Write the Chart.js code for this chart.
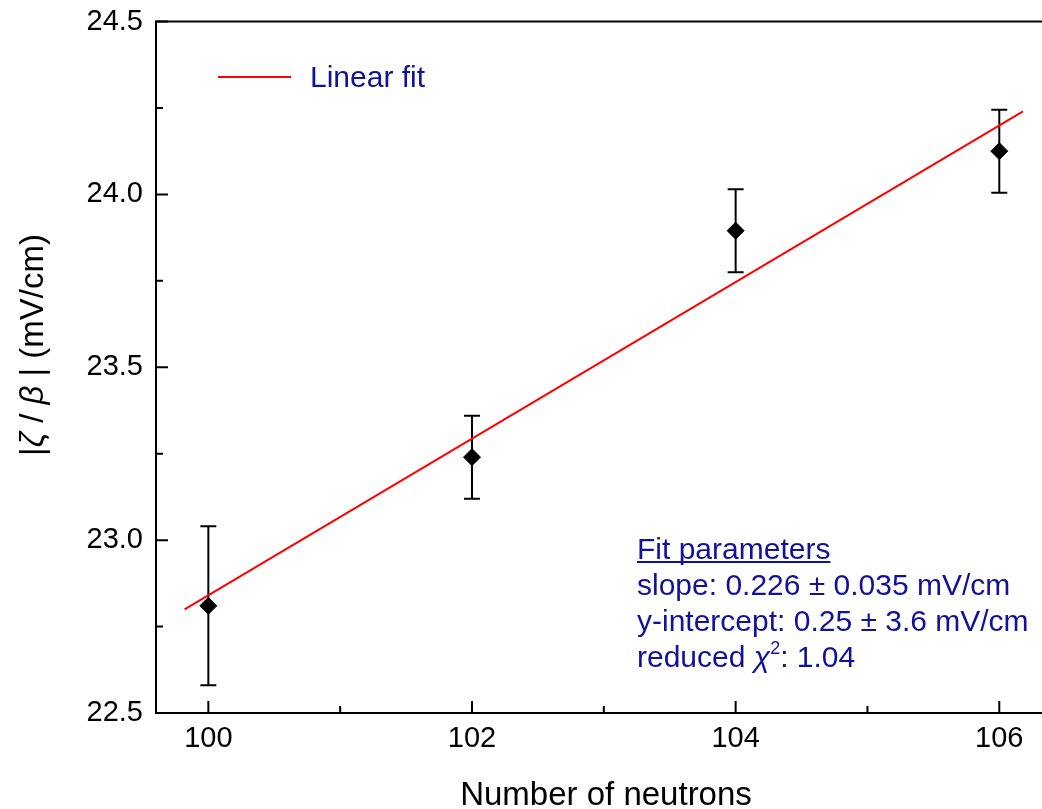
<!DOCTYPE html>
<html>
<head>
<meta charset="utf-8">
<script src="https://cdn.jsdelivr.net/npm/chart.js@4.4.1/dist/chart.umd.min.js"></script>
<style>
html, body { margin: 0; padding: 0; background: #fff; }
#wrap { width: 1042px; height: 809px; }
</style>
</head>
<body>
<div id="wrap"><canvas id="chart" width="1042" height="809"></canvas></div>
<script>
// values
const neutrons = [100, 102, 104, 106];
const zetaBeta = [22.81, 23.24, 23.895, 24.125];
const zetaErr = [0.23, 0.12, 0.12, 0.12];

// linear fit line end points
const fitX = [99.82, 106.18];
const fitY = [22.80, 24.24];

const xTicks = [100, 102, 104, 106];
const xMinorTicks = [101, 103, 105];
const yTicks = [22.5, 23.0, 23.5, 24.0, 24.5];
const yMinorTicks = [22.75, 23.25, 23.75, 24.25];

const fitParams = [
    'slope: 0.226 \u00b1 0.035 mV/cm',
    'y-intercept: 0.25 \u00b1 3.6 mV/cm'
];
const chiText = ': 1.04';

const FONT = "'Liberation Sans', Arial, sans-serif";
const BLUE = '#11119a';

// draw a line of text made of parts (some italic / superscript)
function drawParts(ctx, parts, x, y, align) {
    let total = 0;
    parts.forEach(p => {
        ctx.font = (p.italic ? 'italic ' : '') + p.size + 'px ' + FONT;
        p.w = ctx.measureText(p.t).width;
        total += p.w;
    });
    let cx = align === 'center' ? x - total / 2 : x;
    parts.forEach(p => {
        ctx.font = (p.italic ? 'italic ' : '') + p.size + 'px ' + FONT;
        ctx.fillText(p.t, cx, y + (p.dy || 0));
        cx += p.w;
    });
}

// error bars under the markers
const errorBars = {
    id: 'errorBars',
    beforeDatasetsDraw(chart) {
        const ctx = chart.ctx;
        const x = chart.scales.x, y = chart.scales.y;
        ctx.save();
        ctx.strokeStyle = '#000';
        ctx.lineWidth = 2;
        neutrons.forEach((n, i) => {
            const px = x.getPixelForValue(n);
            const top = y.getPixelForValue(zetaBeta[i] + zetaErr[i]);
            const bot = y.getPixelForValue(zetaBeta[i] - zetaErr[i]);
            ctx.beginPath();
            ctx.moveTo(px, top); ctx.lineTo(px, bot);
            ctx.moveTo(px - 8, top); ctx.lineTo(px + 8, top);
            ctx.moveTo(px - 8, bot); ctx.lineTo(px + 8, bot);
            ctx.stroke();
        });
        ctx.restore();
    }
};

// frame, inward ticks, titles, legend and fit text
const decorations = {
    id: 'decorations',
    afterDraw(chart) {
        const ctx = chart.ctx;
        const a = chart.chartArea;
        const x = chart.scales.x, y = chart.scales.y;
        ctx.save();
        ctx.strokeStyle = '#000';
        ctx.lineWidth = 2;
        ctx.beginPath();
        ctx.moveTo(chart.width, a.top); ctx.lineTo(a.left, a.top);
        ctx.lineTo(a.left, a.bottom); ctx.lineTo(chart.width, a.bottom);
        ctx.stroke();

        ctx.beginPath();
        xTicks.forEach(v => {
            const p = x.getPixelForValue(v);
            ctx.moveTo(p, a.bottom); ctx.lineTo(p, a.bottom - 12);
        });
        xMinorTicks.forEach(v => {
            const p = x.getPixelForValue(v);
            ctx.moveTo(p, a.bottom); ctx.lineTo(p, a.bottom - 7);
        });
        yTicks.forEach(v => {
            const p = y.getPixelForValue(v);
            ctx.moveTo(a.left, p); ctx.lineTo(a.left + 12, p);
        });
        yMinorTicks.forEach(v => {
            const p = y.getPixelForValue(v);
            ctx.moveTo(a.left, p); ctx.lineTo(a.left + 7, p);
        });
        ctx.stroke();

        // axis titles
        ctx.fillStyle = '#000';
        ctx.textBaseline = 'alphabetic';
        ctx.textAlign = 'left';
        drawParts(ctx, [{ t: 'Number of neutrons', size: 33 }], 606, 805, 'center');

        ctx.save();
        ctx.translate(43, 345);
        ctx.rotate(-Math.PI / 2);
        drawParts(ctx, [
            { t: '|', size: 33 },
            { t: '\u03b6', size: 33, italic: true },
            { t: ' / ', size: 33 },
            { t: '\u03b2', size: 33, italic: true },
            { t: ' | (mV/cm)', size: 33 }
        ], 0, 0, 'center');
        ctx.restore();

        // legend
        ctx.strokeStyle = '#ff0000';
        ctx.beginPath();
        ctx.moveTo(218, 77); ctx.lineTo(291, 77);
        ctx.stroke();
        ctx.fillStyle = BLUE;
        drawParts(ctx, [{ t: 'Linear fit', size: 30 }], 310, 87);

        // fit parameters
        ctx.font = '30px ' + FONT;
        ctx.fillText('Fit parameters', 637, 559);
        const uw = ctx.measureText('Fit parameters').width;
        ctx.fillRect(637, 561, uw, 2);
        fitParams.forEach((t, i) => ctx.fillText(t, 637, 595 + i * 36));
        drawParts(ctx, [
            { t: 'reduced ', size: 30 },
            { t: '\u03c7', size: 30, italic: true },
            { t: '2', size: 18, dy: -13 },
            { t: chiText, size: 30 }
        ], 637, 667);
        ctx.restore();
    }
};

const ctx = document.getElementById('chart').getContext('2d');

new Chart(ctx, {
    type: 'scatter',
    data: {
        datasets: [{
            label: 'Data',
            data: neutrons.map((n, i) => ({ x: n, y: zetaBeta[i] })),
            pointStyle: 'rectRot',
            pointRadius: 8.5,
            backgroundColor: '#000',
            borderColor: '#000',
            borderWidth: 1
        }, {
            type: 'line',
            label: 'Linear fit',
            data: fitX.map((v, i) => ({ x: v, y: fitY[i] })),
            borderColor: '#ff0000',
            borderWidth: 2,
            pointRadius: 0,
            fill: false
        }]
    },
    options: {
        responsive: false,
        animation: false,
        layout: {
            autoPadding: false,
            padding: { top: 21.5, right: 0, left: 0, bottom: 0 }
        },
        scales: {
            x: {
                type: 'linear',
                min: 99.603,
                max: 106.324,
                afterFit: s => {
                    s.height = 96;
                    s.paddingLeft = 0; s.paddingRight = 0;
                    s.paddingTop = 0; s.paddingBottom = 0;
                },
                afterBuildTicks: s => { s.ticks = xTicks.map(v => ({ value: v })); },
                grid: { display: false, drawTicks: false },
                border: { display: false },
                ticks: {
                    color: '#000',
                    padding: 9,
                    maxRotation: 0,
                    font: { family: FONT, size: 29 },
                    callback: v => String(v)
                }
            },
            y: {
                type: 'linear',
                min: 22.5,
                max: 24.5,
                afterFit: s => {
                    s.width = 156;
                    s.paddingLeft = 0; s.paddingRight = 0;
                    s.paddingTop = 0; s.paddingBottom = 0;
                },
                afterBuildTicks: s => { s.ticks = yTicks.map(v => ({ value: v })); },
                grid: { display: false, drawTicks: false },
                border: { display: false },
                ticks: {
                    color: '#000',
                    padding: 13,
                    font: { family: FONT, size: 29 },
                    callback: v => v.toFixed(1)
                }
            }
        },
        plugins: {
            legend: { display: false },
            tooltip: { enabled: false }
        }
    },
    plugins: [errorBars, decorations]
});
</script>
</body>
</html>
